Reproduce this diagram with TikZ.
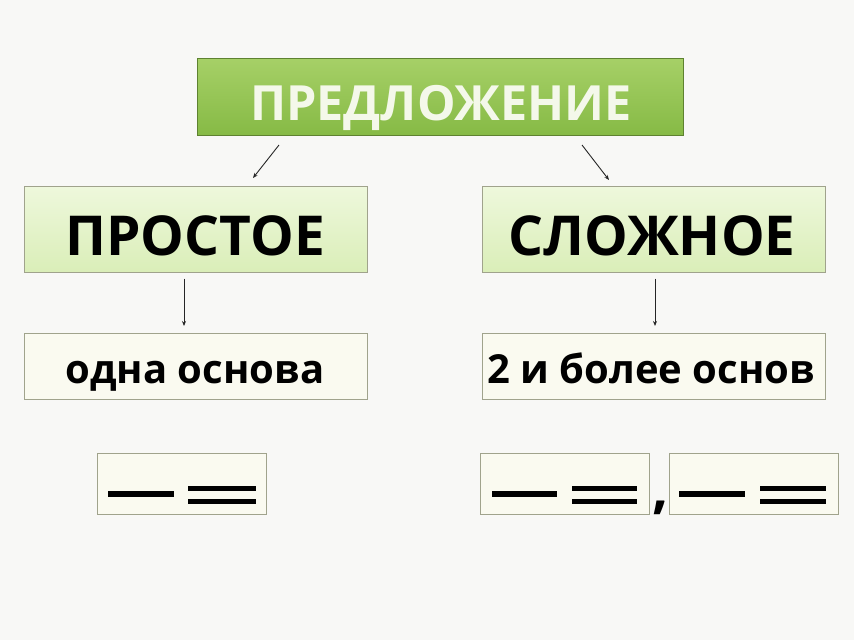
\documentclass[tikz,border=0pt]{standalone}
\usepackage{fontspec}
\setmainfont{Open Sans}
\usetikzlibrary{arrows.meta}
\definecolor{bg}{HTML}{F8F8F6}
\definecolor{topgreen}{HTML}{86BA45}
\definecolor{topgreenlt}{HTML}{A6D067}
\definecolor{lgreen}{HTML}{DAEEB8}
\definecolor{lgreenlt}{HTML}{EEF8DC}
\definecolor{frame}{HTML}{A0A38C}
\definecolor{cream}{HTML}{FAFAF0}
\definecolor{titletext}{HTML}{F4F8EA}
\tikzset{
  topbox/.style={draw=topgreen!70!black, line width=1pt, top color=topgreenlt, bottom color=topgreen, minimum width=486pt, minimum height=77pt, inner sep=0pt},
  catbox/.style={draw=frame, line width=1pt, top color=lgreenlt, bottom color=lgreen, minimum width=343pt, minimum height=86pt, inner sep=0pt},
  descbox/.style={draw=frame, line width=1pt, fill=cream, minimum width=343pt, minimum height=66pt, inner sep=0pt},
  schemebox/.style={draw=frame, line width=1pt, fill=cream, minimum width=169pt, minimum height=61pt, inner sep=0pt},
  label/.style={anchor=base, inner sep=0pt},
  conn/.style={-{Stealth[length=5pt,width=4pt]}, line width=0.9pt, black!85},
  subj/.style={line width=6.5pt, black},
  pred/.style={line width=5pt, black},
}
\begin{document}
\begin{tikzpicture}[x=1pt,y=-1pt]
\fill[bg] (0,0) rectangle (854,640);
\useasboundingbox (0,0) rectangle (854,640);
% top
\node[topbox] (top) at (440,97) {};
\node[label, text=titletext, font=\fontsize{48.5}{48.5}\bfseries\selectfont] (toptext) at (441,120) {ПРЕДЛОЖЕНИЕ};
% categories
\node[catbox] (simple) at (195.5,229) {};
\node[catbox] (complex) at (653.5,229) {};
\node[label, font=\fontsize{55}{55}\bfseries\selectfont] (simpletext) at (195,255) {ПРОСТОЕ};
\node[label, font=\fontsize{55}{55}\bfseries\selectfont] (complextext) at (652,255) {СЛОЖНОЕ};
% descriptions
\node[descbox] (one) at (195.5,366) {};
\node[descbox] (two) at (653.5,366) {};
\node[label, font=\fontsize{40}{40}\bfseries\selectfont] (onetext) at (195,383) {одна основа};
\node[label, font=\fontsize{40}{40}\bfseries\selectfont] (twotext) at (651,383) {2 и более основ};
% arrows
\coordinate (a1s) at (279,145); \coordinate (a1e) at (253,178);
\coordinate (a2s) at (582,145); \coordinate (a2e) at (609,180);
\draw[conn] (a1s) -- (a1e);
\draw[conn] (a2s) -- (a2e);
\draw[conn] (simple.south -| 184,0) ++(0,6) -- (184,326);
\draw[conn] (complex.south -| 655,0) ++(0,6) -- (655,326);
% schemes
\node[schemebox] (s1) at (181.5,484) {};
\node[schemebox] (s2) at (565,484) {};
\node[schemebox] (s3) at (753.5,484) {};
\draw[subj] (108,494) -- (174,494);
\draw[pred] (188,488) -- (256,488); \draw[pred] (188,501) -- (256,501);
\draw[subj] (492,494) -- (557,494);
\draw[pred] (572,488) -- (637,488); \draw[pred] (572,501) -- (637,501);
\draw[subj] (679,494) -- (745,494);
\draw[pred] (760,488) -- (826,488); \draw[pred] (760,501) -- (826,501);
\node[label, font=\fontsize{56}{56}\bfseries\selectfont] (comma) at (661,507) {,};
\end{tikzpicture}
\end{document}
